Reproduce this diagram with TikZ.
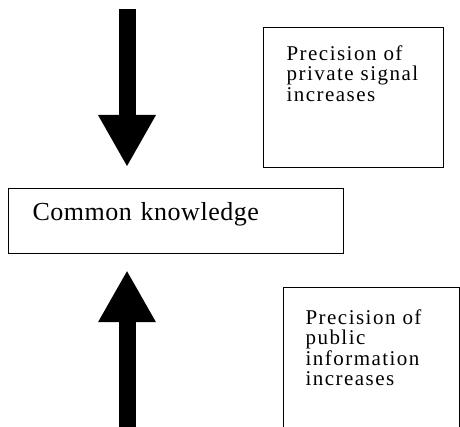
\documentclass[tikz,border=0pt]{standalone}
\usepackage{fontspec}
\setmainfont{Liberation Serif}
\newfontfamily\boxfont[LetterSpace=7]{Liberation Serif}
\newfontfamily\ckfont[LetterSpace=2]{Liberation Serif}
\usetikzlibrary{arrows.meta}

\begin{document}
\begin{tikzpicture}[line cap=butt,line join=miter,x=1pt,y=1pt,
    infobox/.style={draw,line width=1.2pt,anchor=north west,align=left,
      font=\boxfont\fontsize{21pt}{20.5pt}\selectfont},
    bigarrow/.style={line width=17pt,-{Triangle[width=58pt,length=51pt,line width=0pt]}}]
		\useasboundingbox (0,0) rectangle (460,426);
		\clip (0,0) rectangle (460,426);
		% boxes
		\node [draw,line width=1.2pt,anchor=north west,inner xsep=24pt,inner ysep=6pt,
		  text width=287pt,text height=26pt,text depth=27pt,align=left,
		  font=\ckfont\fontsize{26pt}{30pt}\selectfont] (ck) at (8,238) {Common knowledge};
		\node [infobox,inner xsep=23pt,inner ysep=18pt,text width=134pt,text depth=89pt] (priv) at (263,399)
		  {Precision of\\private signal\\increases};
		\node [infobox,inner xsep=22pt,inner ysep=22pt,text width=132pt,text depth=140pt] (pub) at (283,139)
		  {Precision of\\public\\information\\increases};
		% arrows
		\coordinate (dtop) at (127,417);
		\coordinate (ubot) at (127,-5);
		\draw [bigarrow,shorten >=22pt] (dtop) -- (dtop |- ck.north);
		\draw [bigarrow,shorten >=17pt] (ubot) -- (ubot |- ck.south);
\end{tikzpicture}
\end{document}
